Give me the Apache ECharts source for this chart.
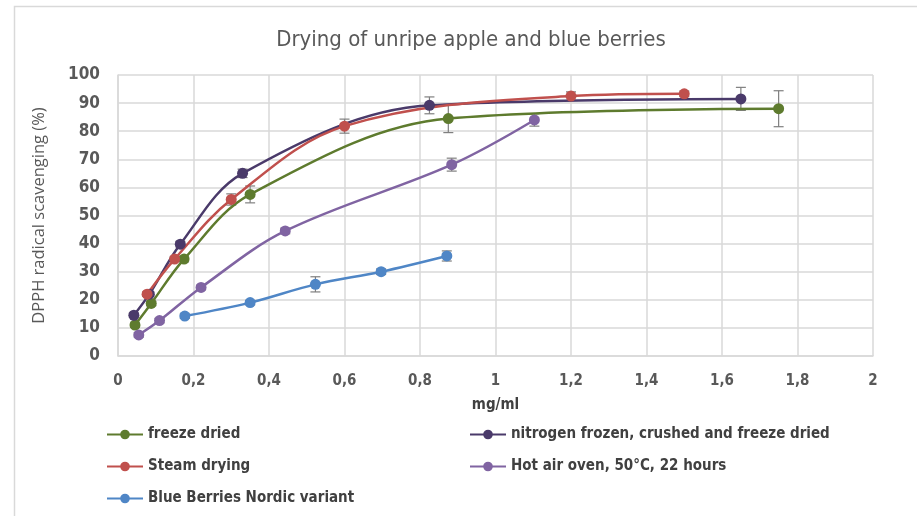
<!DOCTYPE html>
<html>
<head>
<meta charset="utf-8">
<script src="https://cdn.jsdelivr.net/npm/echarts@6/dist/echarts.min.js"></script>
<style>
  html, body { margin: 0; padding: 0; background: #fff; }
  #chart { width: 917px; height: 516px; }
</style>
</head>
<body>
<div id="chart"></div>
<script>
// values: x = mg/ml, y = DPPH %, err = error bar half-height
const freezeX = [0.045, 0.088, 0.175, 0.35, 0.875, 1.75]
const freezeY = [11, 18.7, 34.5, 57.5, 84.5, 88]
const freezeErr = [0.8, 0.8, 1, 3, 5, 6.4]

const nitrogenX = [0.042, 0.083, 0.165, 0.33, 0.825, 1.65]
const nitrogenY = [14.5, 22, 39.8, 65, 89.2, 91.5]
const nitrogenErr = [0.8, 0.8, 1, 1.5, 3, 4.1]

const steamX = [0.077, 0.15, 0.3, 0.6, 1.2, 1.5]
const steamY = [22, 34.5, 55.7, 81.8, 92.5, 93.3]
const steamErr = [0.8, 0.8, 2, 2.5, 1.5, 1]

const hotAirX = [0.055, 0.11, 0.22, 0.443, 0.884, 1.103]
const hotAirY = [7.5, 12.6, 24.4, 44.5, 68.1, 84]
const hotAirErr = [0.8, 0.8, 0.8, 1, 2.3, 2.2]

const blueX = [0.177, 0.35, 0.523, 0.697, 0.871]
const blueY = [14.2, 19, 25.5, 30, 35.6]
const blueErr = [0.8, 0.8, 2.7, 1, 1.8]

const names = [
  'freeze dried',
  'nitrogen frozen, crushed and freeze dried',
  'Steam drying',
  'Hot air oven, 50°C, 22 hours',
  'Blue Berries Nordic variant'
]
const colors = ['#5e7b2e', '#4a3a6a', '#c0504d', '#8064a2', '#4f86c6']

const xTicks = ['0', '0,2', '0,4', '0,6', '0,8', '1', '1,2', '1,4', '1,6', '1,8', '2']

const FONT = "'Liberation Sans Narrow', 'DejaVu Sans Condensed', sans-serif"

const sets = [
  [freezeX, freezeY, freezeErr],
  [nitrogenX, nitrogenY, nitrogenErr],
  [steamX, steamY, steamErr],
  [hotAirX, hotAirY, hotAirErr],
  [blueX, blueY, blueErr]
]

const series = []
sets.forEach((s, i) => {
  const pts = s[0].map((x, k) => [x, s[1][k]])
  const errs = s[0].map((x, k) => [x, s[1][k], s[2][k]])
  series.push({
    name: names[i],
    type: 'line',
    smooth: 0.35,
    data: pts,
    symbol: 'circle',
    symbolSize: 11,
    color: colors[i],
    lineStyle: { width: 2.5, color: colors[i] },
    itemStyle: { color: colors[i] },
    z: 3,
    emphasis: { disabled: true }
  })
  // error bars
  series.push({
    type: 'custom',
    data: errs,
    z: 2,
    silent: true,
    renderItem: (params, api) => {
      const x = api.value(0)
      const y = api.value(1)
      const e = api.value(2)
      const top = api.coord([x, y + e])
      const bot = api.coord([x, y - e])
      const hw = 5
      const style = { stroke: '#7f7f7f', lineWidth: 1.2 }
      return {
        type: 'group',
        children: [
          { type: 'line', shape: { x1: top[0], y1: top[1], x2: bot[0], y2: bot[1] }, style },
          { type: 'line', shape: { x1: top[0] - hw, y1: top[1], x2: top[0] + hw, y2: top[1] }, style },
          { type: 'line', shape: { x1: bot[0] - hw, y1: bot[1], x2: bot[0] + hw, y2: bot[1] }, style }
        ]
      }
    }
  })
})

const legendText = { fontFamily: FONT, fontSize: 15, fontWeight: 'bold', color: '#404040' }

const chart = echarts.init(document.getElementById('chart'))
chart.setOption({
  animation: false,
  backgroundColor: '#fff',
  title: {
    text: 'Drying of unripe apple and blue berries',
    left: 466,
    top: 24,
    textAlign: 'center',
    textStyle: { fontFamily: FONT, fontSize: 22, fontWeight: 'normal', color: '#595959' }
  },
  graphic: [{
    type: 'polyline',
    shape: { points: [[14.5, 516], [14.5, 6.5], [917, 6.5]] },
    style: { stroke: '#d9d9d9', lineWidth: 1.5, fill: null }
  }],
  legend: [
    {
      left: 101, top: 422, orient: 'vertical', itemGap: 17,
      itemWidth: 36, itemHeight: 12,
      data: [names[0], names[2], names[4]],
      textStyle: legendText
    },
    {
      left: 464, top: 422, orient: 'vertical', itemGap: 17,
      itemWidth: 36, itemHeight: 12,
      data: [names[1], names[3]],
      textStyle: legendText
    }
  ],
  grid: { left: 118, right: 44, top: 75, bottom: 160 },
  xAxis: {
    type: 'value',
    min: 0, max: 2, interval: 0.2,
    name: 'mg/ml',
    nameLocation: 'middle',
    nameGap: 42,
    nameTextStyle: { fontFamily: FONT, fontSize: 15, fontWeight: 'bold', color: '#404040' },
    axisLine: { show: true, lineStyle: { color: '#d9d9d9', width: 1.5 } },
    axisTick: { show: false },
    splitLine: { show: true, lineStyle: { color: '#d9d9d9', width: 1.5 } },
    axisLabel: {
      margin: 18,
      fontFamily: FONT, fontSize: 15, fontWeight: 'bold', color: '#595959',
      formatter: (v) => xTicks[Math.round(v / 0.2)]
    }
  },
  yAxis: {
    type: 'value',
    min: 0, max: 100, interval: 10,
    name: 'DPPH radical scavenging (%)',
    nameLocation: 'middle',
    nameGap: 70,
    nameTextStyle: { fontFamily: "'Open Sans', 'DejaVu Sans', sans-serif", fontSize: 16.5, color: '#595959' },
    axisLine: { show: true, lineStyle: { color: '#d9d9d9', width: 1.5 } },
    axisTick: { show: false },
    splitLine: { show: true, lineStyle: { color: '#d9d9d9', width: 1.5 } },
    axisLabel: {
      margin: 18,
      fontFamily: FONT, fontSize: 17, fontWeight: 'bold', color: '#595959'
    }
  },
  series: series
})
</script>
</body>
</html>
